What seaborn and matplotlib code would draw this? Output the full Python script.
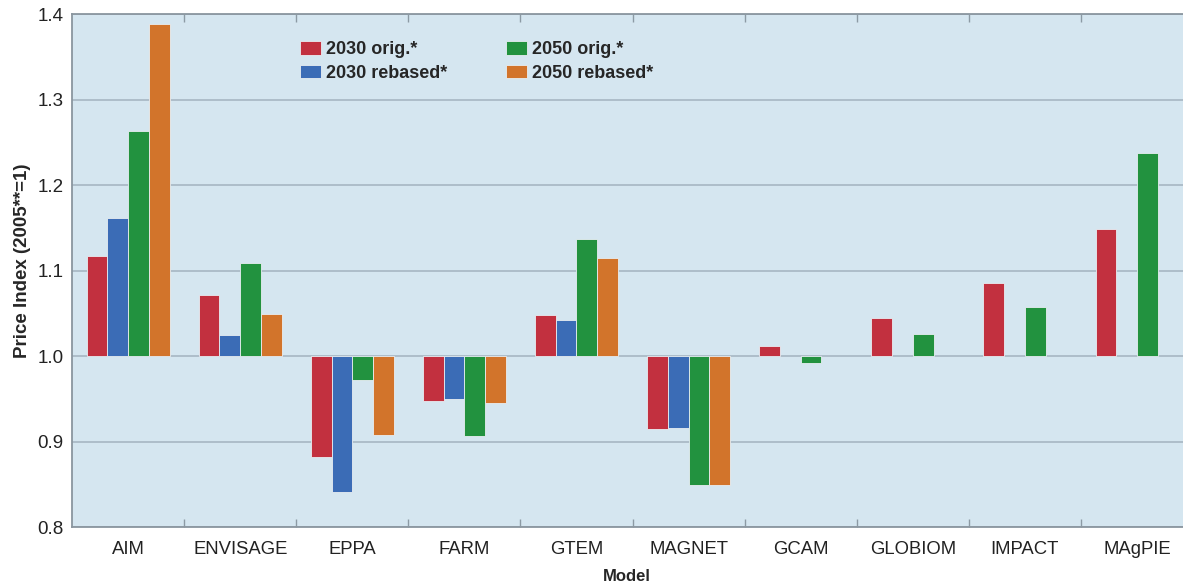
import numpy as np
import pandas as pd
import matplotlib
matplotlib.use('Agg')
import matplotlib.pyplot as plt
from matplotlib.ticker import FixedLocator
import seaborn as sns


# values (price index, 2005 = 1)
models = ['AIM', 'ENVISAGE', 'EPPA', 'FARM', 'GTEM', 'MAGNET',
          'GCAM', 'GLOBIOM', 'IMPACT', 'MAgPIE']
orig_2030 = [1.117, 1.072, 0.882, 0.947, 1.048, 0.915, 1.012, 1.045, 1.085, 1.149]
rebased_2030 = [1.162, 1.025, 0.841, 0.950, 1.042, 0.916, np.nan, np.nan, np.nan, np.nan]
orig_2050 = [1.263, 1.109, 0.972, 0.907, 1.137, 0.849, 0.992, 1.026, 1.058, 1.238]
rebased_2050 = [1.389, 1.049, 0.908, 0.945, 1.115, 0.849, np.nan, np.nan, np.nan, np.nan]

series = ['2030 orig.*', '2030 rebased*', '2050 orig.*', '2050 rebased*']
colors = ['#C2303F', '#3B6CB6', '#22923F', '#D2742B']
y_ticks = [0.8, 0.9, 1.0, 1.1, 1.2, 1.3, 1.4]
base = 1.0


# long table for seaborn, bars hang from the 1.0 line
df = pd.DataFrame({'Model': models,
                   series[0]: orig_2030,
                   series[1]: rebased_2030,
                   series[2]: orig_2050,
                   series[3]: rebased_2050})
df = df.melt(id_vars='Model', var_name='Series', value_name='Index')
df['delta'] = df['Index'] - base

sns.set_style('white')
plt.rcParams['font.family'] = ['Liberation Sans', 'DejaVu Sans']

fig = plt.figure(figsize=(11.83, 5.84), dpi=100)
# plot area runs a little past the right edge, as in the original
ax = fig.add_axes([0.0609, 0.0976, 0.9476, 0.878])
ax.set_facecolor('#D5E6F0')

sns.barplot(data=df, x='Model', y='delta', hue='Series', order=models,
            hue_order=series, palette=colors, errorbar=None, width=0.74,
            bottom=base, edgecolor='#E8EEF2', linewidth=0.6, saturation=1,
            legend=False, ax=ax, zorder=3)

ax.set_ylim(0.8, 1.4)
ax.set_xlim(-0.5, len(models) - 0.5)
ax.set_yticks(y_ticks)
ax.set_yticklabels(['%.1f' % t for t in y_ticks])
ax.yaxis.grid(True, color='#A7B7C3', linewidth=1.2, zorder=0)
ax.set_axisbelow(True)

# small ticks between models, top and bottom
ax.xaxis.set_minor_locator(FixedLocator(np.arange(0.5, len(models) - 1, 1.0)))
ax.tick_params(axis='x', which='major', length=0, labelsize=13.3, pad=10,
               colors='#222222')
ax.tick_params(axis='x', which='minor', length=6, width=1, color='#8C9AA4',
               direction='in', top=True, bottom=True)
ax.tick_params(axis='y', length=0, labelsize=13.5, pad=6, colors='#222222')

for s in ax.spines.values():
    s.set_color('#8A969F')
    s.set_linewidth(1.3)

ax.set_xlabel('Model', fontsize=12, fontweight='bold')
ax.xaxis.set_label_coords(0.495, -0.082)
ax.set_ylabel('Price Index (2005**=1)', fontsize=13.5, fontweight='bold')
ax.yaxis.set_label_coords(-0.037, 0.52)

leg = ax.legend(ax.containers, series, ncol=2, loc='upper left',
                bbox_to_anchor=(0.189, 0.979),
                frameon=False, prop={'weight': 'bold', 'size': 13},
                handlelength=1.15, handleheight=0.77, handletextpad=0.28,
                columnspacing=3.25, labelspacing=0.36)

fig.savefig('out.png', dpi=100)
